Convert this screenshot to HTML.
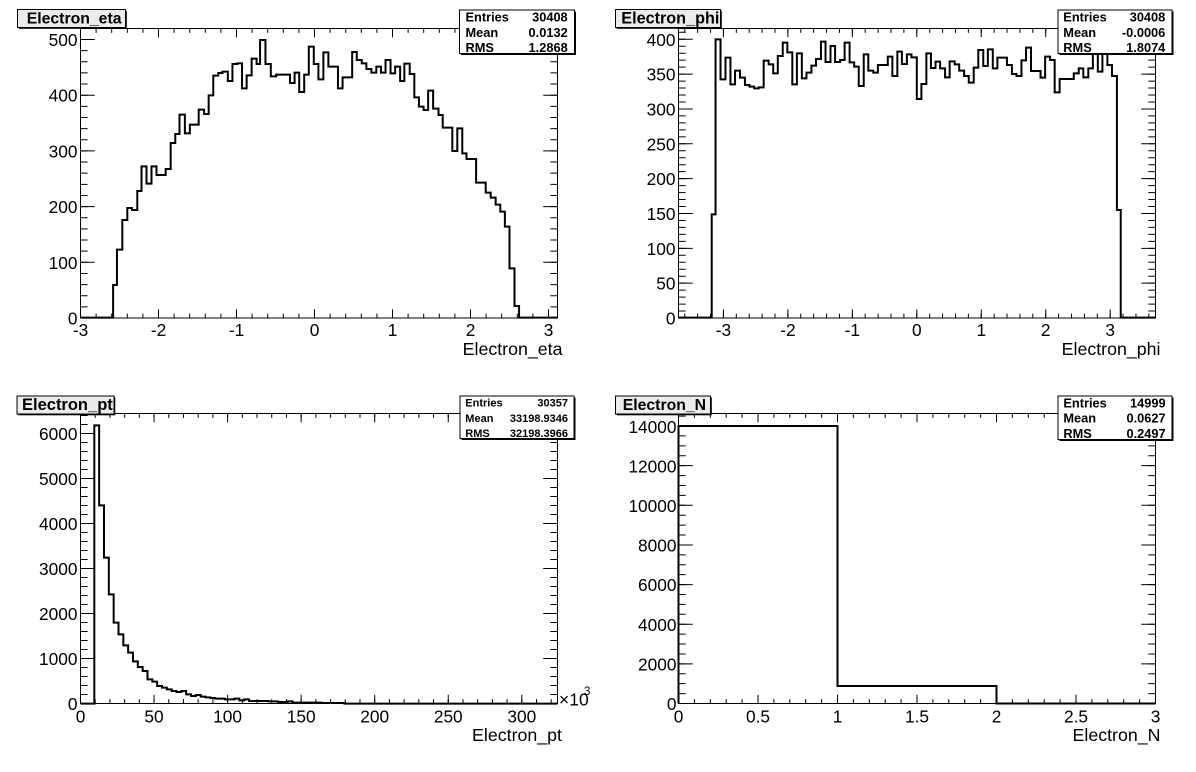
<!DOCTYPE html>
<html><head><meta charset="utf-8"><style>
html,body{margin:0;padding:0;background:#fff;}
svg{display:block;}
text{font-family:"Liberation Sans",Arial,sans-serif;fill:#000;}
.tl{font-size:17.3px;}
.ax{font-size:17.8px;}
.st{font-size:12.8px;font-weight:bold;}
.st2{font-size:11px;font-weight:bold;}
.tt{font-size:15.8px;font-weight:bold;}
</style></head><body>
<svg width="1196" height="772" viewBox="0 0 1196 772" xmlns="http://www.w3.org/2000/svg">
<rect width="1196" height="772" fill="#fff"/>

<!-- ================= PANEL A: Electron_eta ================= -->
<g fill="none" stroke="#000">
  <rect x="80.5" y="28.5" width="477" height="289.5" stroke-width="1"/>
  <line x1="80" y1="313.65" x2="558" y2="313.65" stroke-width="8.7" stroke-dasharray="1 77"/>
  <line x1="80" y1="315.825" x2="558" y2="315.825" stroke-width="4.35" stroke-dasharray="1 14.6"/>
  <line x1="80" y1="32.85" x2="558" y2="32.85" stroke-width="8.7" stroke-dasharray="1 77"/>
  <line x1="80" y1="30.675" x2="558" y2="30.675" stroke-width="4.35" stroke-dasharray="1 14.6"/>
  <line x1="87.65" y1="318.5" x2="87.65" y2="28" stroke-width="14.3" stroke-dasharray="1 54.7"/>
  <line x1="84.075" y1="318.5" x2="84.075" y2="28" stroke-width="7.15" stroke-dasharray="1 10.14"/>
  <line x1="550.35" y1="318.5" x2="550.35" y2="28" stroke-width="14.3" stroke-dasharray="1 54.7"/>
  <line x1="553.925" y1="318.5" x2="553.925" y2="28" stroke-width="7.15" stroke-dasharray="1 10.14"/>
  <g transform="translate(-0.84,0) scale(0.3837,0.33333)">
    <polyline vector-effect="non-scaling-stroke" stroke-width="2" stroke-linejoin="miter" points="212,953 297,953 297,855 307,855 307,749 321,749 321,660 334,660 334,624 346,624 346,630 360,630 360,573 371,573 371,499 384,499 384,551 397,551 397,499 410,499 410,525 434,525 434,507 447,507 447,429 459,429 459,402 470,402 470,344 484,344 484,400 497,400 497,374 520,374 520,329 534,329 534,342 546,342 546,286 558,286 558,227 571,227 571,219 582,219 582,215 596,215 596,243 608,243 608,192 620,192 620,190 633,190 633,265 645,265 645,226 658,226 658,176 671,176 671,192 680,192 680,120 694,120 694,192 708,192 708,229 722,229 722,224 758,224 758,249 770,249 770,218 782,218 782,276 795,276 795,224 807,224 807,140 820,140 820,192 832,192 832,238 845,238 845,157 858,157 858,200 883,200 883,265 895,265 895,232 920,232 920,156 932,156 932,180 945,180 945,190 957,190 957,207 970,207 970,218 983,218 983,200 995,200 995,218 1007,218 1007,180 1020,180 1020,220 1032,220 1032,200 1045,200 1045,243 1056,243 1056,191 1070,191 1070,222 1082,222 1082,292 1094,292 1094,320 1106,320 1106,330 1118,330 1118,272 1131,272 1131,326 1145,326 1145,345 1156,345 1156,383 1181,383 1181,453 1194,453 1194,385 1207,385 1207,460 1218,460 1218,477 1243,477 1243,548 1268,548 1268,578 1281,578 1281,593 1294,593 1294,614 1306,614 1306,635 1318,635 1318,680 1330,680 1330,805 1343,805 1343,918 1355,918 1355,953 1455,953"/>
  </g>
</g>
<g class="tl" text-anchor="middle">
  <text x="80.5" y="336">-3</text><text x="158.5" y="336">-2</text><text x="236.5" y="336">-1</text>
  <text x="314.5" y="336">0</text><text x="392.5" y="336">1</text><text x="470.5" y="336">2</text><text x="548.5" y="336">3</text>
</g>
<g class="tl" text-anchor="end">
  <text x="77.5" y="324.5">0</text><text x="77.5" y="268.8">100</text><text x="77.5" y="213.1">200</text>
  <text x="77.5" y="157.4">300</text><text x="77.5" y="101.7">400</text><text x="77.5" y="46">500</text>
</g>
<text class="ax" x="562.5" y="355" text-anchor="end">Electron_eta</text>
<!-- stats A -->
<rect x="461" y="11.5" width="115" height="43.5" fill="#000"/>
<rect x="459.5" y="10" width="115" height="43.5" fill="#fff" stroke="#000" stroke-width="1"/>
<g class="st"><text x="465.5" y="21.3">Entries</text><text x="465.5" y="36.8">Mean</text><text x="465.5" y="52">RMS</text></g>
<g class="st" text-anchor="end"><text x="567.7" y="21.3">30408</text><text x="567.7" y="36.8">0.0132</text><text x="567.7" y="52">1.2868</text></g>
<!-- title A -->
<rect x="18.8" y="10.8" width="108" height="18" fill="#000"/>
<rect x="17.5" y="9.5" width="108" height="18" fill="#ececec" stroke="#000" stroke-width="1"/>
<text class="tt" x="26.7" y="23.5">Electron_eta</text>

<!-- ================= PANEL B: Electron_phi ================= -->
<g fill="none" stroke="#000">
  <rect x="678.5" y="28.5" width="477" height="289.5" stroke-width="1"/>
  <line x1="722.92" y1="313.65" x2="1156" y2="313.65" stroke-width="8.7" stroke-dasharray="1 63.46"/>
  <line x1="684.24" y1="315.825" x2="1156" y2="315.825" stroke-width="4.35" stroke-dasharray="1 11.892"/>
  <line x1="722.92" y1="32.85" x2="1156" y2="32.85" stroke-width="8.7" stroke-dasharray="1 63.46"/>
  <line x1="684.24" y1="30.675" x2="1156" y2="30.675" stroke-width="4.35" stroke-dasharray="1 11.892"/>
  <line x1="685.65" y1="318.5" x2="685.65" y2="28" stroke-width="14.3" stroke-dasharray="1 33.84"/>
  <line x1="682.075" y1="318.5" x2="682.075" y2="28" stroke-width="7.15" stroke-dasharray="1 5.968"/>
  <line x1="1148.35" y1="318.5" x2="1148.35" y2="28" stroke-width="14.3" stroke-dasharray="1 33.84"/>
  <line x1="1151.925" y1="318.5" x2="1151.925" y2="28" stroke-width="7.15" stroke-dasharray="1 5.968"/>
  <g transform="translate(597.54,0) scale(0.3819,0.33333)">
    <polyline vector-effect="non-scaling-stroke" stroke-width="2" points="212,953 299,953 299,643 309,643 309,118 322,118 322,238 335,238 335,173 348,173 348,253 360,253 360,212 373,212 373,233 386,233 386,255 398,255 398,260 410,260 410,265 422,265 422,262 435,262 435,182 448,182 448,193 460,193 460,220 472,220 472,168 485,168 485,128 497,128 497,157 510,157 510,253 522,253 522,160 535,160 535,235 547,235 547,218 560,218 560,197 572,197 572,177 585,177 585,125 597,125 597,186 610,186 610,138 622,138 622,186 635,186 635,180 647,180 647,128 660,128 660,187 672,187 672,200 684,200 684,258 697,258 697,163 709,163 709,212 722,212 722,218 734,218 734,195 760,195 760,170 772,170 772,228 785,228 785,155 797,155 797,192 810,192 810,163 822,163 822,172 836,172 836,297 848,297 848,252 861,252 861,160 873,160 873,204 885,204 885,185 897,185 897,205 910,205 910,232 922,232 922,184 935,184 935,193 947,193 947,212 960,212 960,228 972,228 972,248 985,248 985,203 997,203 997,150 1010,150 1010,198 1022,198 1022,148 1035,148 1035,205 1047,205 1047,173 1072,173 1072,195 1085,195 1085,222 1097,222 1097,228 1110,228 1110,181 1122,181 1122,143 1135,143 1135,213 1160,213 1160,233 1172,233 1172,170 1185,170 1185,180 1197,180 1197,277 1210,277 1210,237 1247,237 1247,220 1260,220 1260,205 1272,205 1272,232 1285,232 1285,205 1297,205 1297,130 1310,130 1310,215 1322,215 1322,130 1335,130 1335,195 1347,195 1347,228 1360,228 1360,630 1370,630 1370,953 1461,953"/>
  </g>
</g>
<g class="tl" text-anchor="middle">
  <text x="723.4" y="336">-3</text><text x="787.9" y="336">-2</text><text x="852.3" y="336">-1</text>
  <text x="916.8" y="336">0</text><text x="981.3" y="336">1</text><text x="1045.7" y="336">2</text><text x="1110.2" y="336">3</text>
</g>
<g class="tl" text-anchor="end">
  <text x="675.5" y="324.5">0</text><text x="675.5" y="289.7">50</text><text x="675.5" y="254.8">100</text>
  <text x="675.5" y="220">150</text><text x="675.5" y="185.1">200</text><text x="675.5" y="150.3">250</text>
  <text x="675.5" y="115.5">300</text><text x="675.5" y="80.6">350</text><text x="675.5" y="45.8">400</text>
</g>
<text class="ax" x="1160.5" y="355" text-anchor="end">Electron_phi</text>
<!-- stats B -->
<rect x="1059.5" y="11.5" width="114" height="43.5" fill="#000"/>
<rect x="1058" y="10" width="114" height="43.5" fill="#fff" stroke="#000" stroke-width="1"/>
<g class="st"><text x="1063.3" y="21.3">Entries</text><text x="1063.3" y="36.8">Mean</text><text x="1063.3" y="52">RMS</text></g>
<g class="st" text-anchor="end"><text x="1165.3" y="21.3">30408</text><text x="1165.3" y="36.8">-0.0006</text><text x="1165.3" y="52">1.8074</text></g>
<!-- title B -->
<rect x="616.8" y="10.8" width="105" height="18" fill="#000"/>
<rect x="615.5" y="9.5" width="105" height="18" fill="#ececec" stroke="#000" stroke-width="1"/>
<svg x="616" y="10" width="104" height="17" overflow="hidden"><text class="tt" x="5.3" y="13.5" style="font-size:16.2px">Electron_phi</text></svg>

<!-- ================= PANEL C: Electron_pt ================= -->
<g fill="none" stroke="#000">
  <rect x="80.5" y="413.5" width="477" height="290" stroke-width="1"/>
  <line x1="80" y1="699.15" x2="558" y2="699.15" stroke-width="8.7" stroke-dasharray="1 72.55"/>
  <line x1="80" y1="701.325" x2="558" y2="701.325" stroke-width="4.35" stroke-dasharray="1 13.71"/>
  <line x1="80" y1="417.85" x2="558" y2="417.85" stroke-width="8.7" stroke-dasharray="1 72.55"/>
  <line x1="80" y1="415.675" x2="558" y2="415.675" stroke-width="4.35" stroke-dasharray="1 13.71"/>
  <line x1="87.65" y1="704" x2="87.65" y2="413" stroke-width="14.3" stroke-dasharray="1 44"/>
  <line x1="84.075" y1="704" x2="84.075" y2="413" stroke-width="7.15" stroke-dasharray="1 8"/>
  <line x1="550.35" y1="704" x2="550.35" y2="413" stroke-width="14.3" stroke-dasharray="1 44"/>
  <line x1="553.925" y1="704" x2="553.925" y2="413" stroke-width="7.15" stroke-dasharray="1 8"/>
  <g transform="translate(-0.84,386) scale(0.3837,0.33333)">
    <polyline vector-effect="non-scaling-stroke" stroke-width="2" points="212,953 248,953 248,118 260.6,118 260.6,358 273.2,358 273.2,515 285.8,515 285.8,625 298.4,625 298.4,710 311,710 311,745 323.6,745 323.6,778 336.2,778 336.2,800 348.8,800 348.8,826 361.4,826 361.4,843 374,843 374,855 386.6,855 386.6,880 399.2,880 399.2,887 411.8,887 411.8,900 424.4,900 424.4,905 437,905 437,910 449.6,910 449.6,915 462.2,915 462.2,918 474.8,918 474.8,915 487.4,915 487.4,925 500,925 500,930 512.6,930 512.6,927 525.2,927 525.2,932 537.8,932 537.8,934 550.4,934 550.4,936 563,936 563,938 588.2,938 588.2,940 613.4,940 613.4,938 626,938 626,943 638.6,943 638.6,940 651.2,940 651.2,945 701.6,945 701.6,946 726.8,946 726.8,948 752,948 752,946 764.6,946 764.6,950 840,950 840,951 900,951 900,953 1455,953"/>
  </g>
</g>
<g class="tl" text-anchor="middle">
  <text x="80.5" y="722.3">0</text><text x="154.05" y="722.3">50</text><text x="227.6" y="722.3">100</text>
  <text x="301.15" y="722.3">150</text><text x="374.7" y="722.3">200</text><text x="448.25" y="722.3">250</text><text x="521.8" y="722.3">300</text>
</g>
<g class="tl" text-anchor="end">
  <text x="77.5" y="710">0</text><text x="77.5" y="665">1000</text><text x="77.5" y="620">2000</text>
  <text x="77.5" y="575">3000</text><text x="77.5" y="530">4000</text><text x="77.5" y="485">5000</text><text x="77.5" y="440">6000</text>
</g>
<text x="559" y="705.5" style="font-size:17.5px">×10</text>
<text x="584" y="695" style="font-size:11.5px">3</text>
<text class="ax" x="562" y="741" text-anchor="end">Electron_pt</text>
<!-- stats C -->
<rect x="461.5" y="397.5" width="114" height="42.5" fill="#000"/>
<rect x="460" y="396" width="114" height="42.5" fill="#fff" stroke="#000" stroke-width="1"/>
<g class="st2"><text x="465.3" y="406.7">Entries</text><text x="465.3" y="422">Mean</text><text x="465.3" y="437">RMS</text></g>
<g class="st2" text-anchor="end"><text x="568" y="406.7">30357</text><text x="568" y="422">33198.9346</text><text x="568" y="437">32198.3966</text></g>
<!-- title C -->
<rect x="18.3" y="397.3" width="97" height="18" fill="#000"/>
<rect x="17" y="396" width="97" height="18" fill="#ececec" stroke="#000" stroke-width="1"/>
<svg x="17.5" y="396.5" width="96" height="17" overflow="hidden"><text class="tt" x="4.5" y="13.5" style="font-size:16.5px">Electron_pt</text></svg>

<!-- ================= PANEL D: Electron_N ================= -->
<g fill="none" stroke="#000">
  <rect x="678.5" y="413.5" width="477" height="290" stroke-width="1"/>
  <line x1="678" y1="699.15" x2="1156" y2="699.15" stroke-width="8.7" stroke-dasharray="1 78.5"/>
  <line x1="678" y1="701.325" x2="1156" y2="701.325" stroke-width="4.35" stroke-dasharray="1 14.9"/>
  <line x1="678" y1="417.85" x2="1156" y2="417.85" stroke-width="8.7" stroke-dasharray="1 78.5"/>
  <line x1="678" y1="415.675" x2="1156" y2="415.675" stroke-width="4.35" stroke-dasharray="1 14.9"/>
  <line x1="685.65" y1="704" x2="685.65" y2="413" stroke-width="14.3" stroke-dasharray="1 38.64"/>
  <line x1="682.075" y1="704" x2="682.075" y2="413" stroke-width="7.15" stroke-dasharray="1 8.91"/>
  <line x1="1148.35" y1="704" x2="1148.35" y2="413" stroke-width="14.3" stroke-dasharray="1 38.64"/>
  <line x1="1151.925" y1="704" x2="1151.925" y2="413" stroke-width="7.15" stroke-dasharray="1 8.91"/>
  <polyline stroke-width="2" points="678.5,703.5 678.5,426 837.5,426 837.5,686 996.5,686 996.5,703.5 1155.5,703.5"/>
</g>
<g class="tl" text-anchor="middle">
  <text x="678.5" y="722.3">0</text><text x="758" y="722.3">0.5</text><text x="837.5" y="722.3">1</text>
  <text x="917" y="722.3">1.5</text><text x="996.5" y="722.3">2</text><text x="1076" y="722.3">2.5</text><text x="1155.5" y="722.3">3</text>
</g>
<g class="tl" text-anchor="end">
  <text x="676.5" y="710">0</text><text x="676.5" y="670.4">2000</text><text x="676.5" y="630.8">4000</text>
  <text x="676.5" y="591.2">6000</text><text x="676.5" y="551.6">8000</text><text x="676.5" y="512">10000</text>
  <text x="676.5" y="472.4">12000</text><text x="676.5" y="432.8">14000</text>
</g>
<text class="ax" x="1160.5" y="741" text-anchor="end">Electron_N</text>
<!-- stats D -->
<rect x="1059.5" y="397.5" width="114" height="43.5" fill="#000"/>
<rect x="1058" y="396" width="114" height="43.5" fill="#fff" stroke="#000" stroke-width="1"/>
<g class="st"><text x="1063.4" y="407.3">Entries</text><text x="1063.4" y="422.7">Mean</text><text x="1063.4" y="438">RMS</text></g>
<g class="st" text-anchor="end"><text x="1165.6" y="407.3">14999</text><text x="1165.6" y="422.7">0.0627</text><text x="1165.6" y="438">0.2497</text></g>
<!-- title D -->
<rect x="616.8" y="397.3" width="95" height="18" fill="#000"/>
<rect x="615.5" y="396" width="95" height="18" fill="#ececec" stroke="#000" stroke-width="1"/>
<text class="tt" x="622.7" y="410">Electron_N</text>
</svg>
</body></html>
